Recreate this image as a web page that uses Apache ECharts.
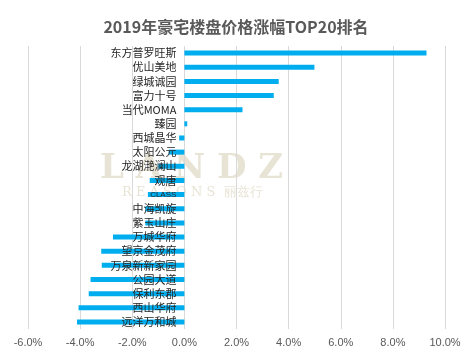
<!DOCTYPE html>
<html>
<head>
<meta charset="utf-8">
<script src="https://cdn.jsdelivr.net/npm/echarts@6/dist/echarts.min.js"></script>
<style>
  html, body { margin: 0; padding: 0; background: #fff; }
  #chart { width: 472px; height: 353px; }
</style>
</head>
<body>
<div id="chart"></div>
<script>
// 楼盘名称（自上而下）
var categories = [
  "东方普罗旺斯", "优山美地", "绿城诚园", "富力十号", "当代MOMA",
  "臻园", "西城晶华", "太阳公元", "龙湖滟澜山", "观唐",
  "CLASS", "中海凯旋", "紫玉山庄", "万城华府", "望京金茂府",
  "万泉新新家园", "公园大道", "保利东郡", "西山华府", "远洋万和城"
];
// 价格涨幅（%）
var growth = [
  9.29, 4.99, 3.62, 3.43, 2.23,
  0.11, -0.2, -0.6, -1.0, -1.33,
  -1.4, -1.5, -1.5, -2.74, -3.19,
  -3.17, -3.6, -3.67, -4.06, -4.12
];
var xTicks = { min: -6, max: 10, step: 2 };

var chart = echarts.init(document.getElementById("chart"));

// 名称标签贴着0轴左侧：正值放柱左边，负值放柱内右侧
var barData = growth.map(function (v) {
  return {
    value: v,
    label: v >= 0
      ? { position: "left", distance: 8 }
      : { position: "insideRight", distance: 8 }
  };
});

chart.setOption({
  title: {
    text: "2019年豪宅楼盘价格涨幅TOP20排名",
    left: "center",
    top: 14,
    textStyle: {
      fontSize: 16,
      fontWeight: "bold",
      color: "#595959",
      fontFamily: "Noto Sans CJK SC"
    }
  },
  // 水印
  graphic: [
    {
      type: "text",
      left: 100,
      top: 152,
      z: -1,
      style: {
        text: "L A N D Z",
        fontSize: 34,
        fontWeight: "bold",
        fontFamily: "DejaVu Serif",
        fill: "#e8e4d5"
      }
    },
    {
      type: "text",
      left: 122,
      top: 186,
      z: -1,
      style: {
        text: "R E A S O N S  丽兹行",
        fontSize: 13,
        fontFamily: "DejaVu Serif",
        fill: "#e8e4d5"
      }
    }
  ],
  grid: {
    left: 28,
    right: 27,
    top: 46,
    bottom: 24,
    outerBoundsMode: "none"
  },
  xAxis: {
    type: "value",
    min: xTicks.min,
    max: xTicks.max,
    interval: xTicks.step,
    axisLine: { show: false },
    axisTick: { show: false },
    axisLabel: {
      color: "#595959",
      fontSize: 11,
      margin: 8,
      formatter: function (v) {
        return v.toFixed(1) + "%";
      }
    },
    splitLine: {
      lineStyle: { color: "#d9d9d9", width: 1 }
    }
  },
  yAxis: {
    type: "category",
    data: categories,
    inverse: true,
    axisLine: { show: false },
    axisTick: { show: false },
    axisLabel: { show: false }
  },
  series: [
    {
      type: "bar",
      data: barData,
      barWidth: 5,
      itemStyle: { color: "#00aeef" },
      label: {
        show: true,
        color: "#262626",
        fontSize: 11,
        fontFamily: "Noto Sans CJK SC",
        formatter: function (p) {
          return p.name === "CLASS" ? "{s|" + p.name + "}" : p.name;
        },
        rich: {
          s: { fontSize: 8, color: "#262626", fontFamily: "Liberation Sans" }
        }
      }
    }
  ]
});
</script>
</body>
</html>
